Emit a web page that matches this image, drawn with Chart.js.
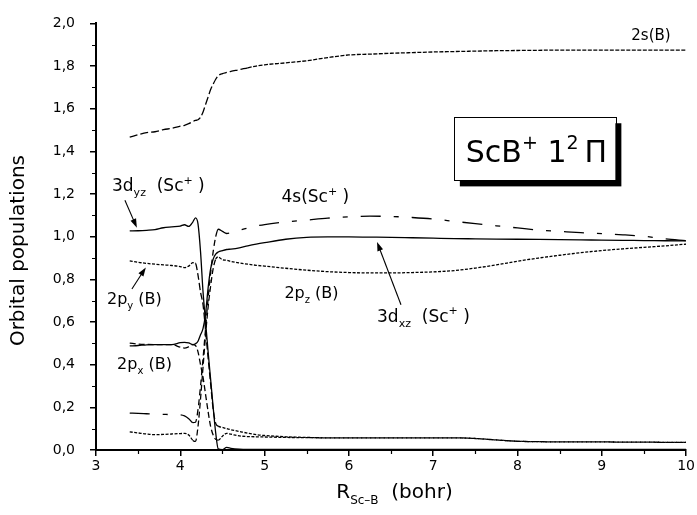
<!DOCTYPE html>
<html>
<head>
<meta charset="utf-8">
<title>ScB+ 1 2Π orbital populations</title>
<script src="https://cdn.jsdelivr.net/npm/chart.js@4.4.0/dist/chart.umd.min.js"></script>
<style>
  html, body { margin: 0; padding: 0; background: #fff; }
  canvas { display: block; }
</style>
</head>
<body>
<canvas id="chart" width="697" height="515"></canvas>
<script>
// Sc–B distance (bohr) at which the populations are tabulated
const rBohr = [3.4, 3.5, 3.6, 3.7, 3.8, 3.9, 4.0, 4.05, 4.1, 4.15,
  4.18, 4.21, 4.24, 4.27, 4.30, 4.33, 4.36, 4.39, 4.42, 4.45,
  4.5, 4.55, 4.6, 4.7, 4.8, 4.9, 5.0, 5.25, 5.5, 5.75,
  6.0, 6.25, 6.5, 6.75, 7.0, 7.25, 7.5, 7.75, 8.0, 8.25,
  8.5, 8.75, 9.0, 9.25, 9.5, 9.75, 10.0];

// Mulliken orbital populations along the curve
const pop2sB = [1.467, 1.478, 1.488, 1.492, 1.502, 1.508, 1.518, 1.522, 1.530, 1.540,
  1.545, 1.548, 1.560, 1.585, 1.620, 1.655, 1.690, 1.715, 1.738, 1.755,
  1.765, 1.770, 1.775, 1.783, 1.792, 1.800, 1.806, 1.815, 1.825, 1.840,
  1.852, 1.856, 1.860, 1.863, 1.866, 1.868, 1.870, 1.872, 1.873, 1.874,
  1.875, 1.875, 1.875, 1.875, 1.875, 1.875, 1.875];

const pop3dyz = [1.027, 1.028, 1.030, 1.033, 1.042, 1.046, 1.050, 1.056, 1.048, 1.070,
  1.088, 1.060, 0.930, 0.740, 0.600, 0.460, 0.330, 0.200, 0.080, 0.005,
  0.002, 0.012, 0.008, 0.004, 0.003, 0.003, 0.003, 0.003, 0.003, 0.003,
  0.003, 0.003, 0.003, 0.003, 0.003, 0.003, 0.003, 0.003, 0.003, 0.003,
  0.003, 0.003, 0.003, 0.003, 0.003, 0.003, 0.003];

const pop2py = [0.887, 0.880, 0.875, 0.871, 0.868, 0.865, 0.860, 0.855, 0.862, 0.878,
  0.875, 0.820, 0.740, 0.680, 0.560, 0.430, 0.310, 0.190, 0.125, 0.112,
  0.106, 0.100, 0.095, 0.087, 0.079, 0.072, 0.068, 0.062, 0.059, 0.057,
  0.057, 0.057, 0.057, 0.057, 0.057, 0.057, 0.054, 0.047, 0.041, 0.039,
  0.038, 0.038, 0.038, 0.037, 0.037, 0.036, 0.036];

const pop2px = [0.501, 0.497, 0.495, 0.494, 0.494, 0.494, 0.482, 0.478, 0.484, 0.494,
  0.490, 0.460, 0.400, 0.340, 0.260, 0.180, 0.110, 0.070, 0.050, 0.046,
  0.065, 0.078, 0.074, 0.066, 0.063, 0.062, 0.061, 0.059, 0.058, 0.057,
  0.057, 0.057, 0.057, 0.057, 0.057, 0.057, 0.054, 0.047, 0.041, 0.039,
  0.038, 0.038, 0.038, 0.037, 0.037, 0.036, 0.036];

const pop3dxz = [0.488, 0.490, 0.493, 0.494, 0.494, 0.494, 0.503, 0.505, 0.502, 0.494,
  0.498, 0.510, 0.540, 0.570, 0.640, 0.760, 0.850, 0.895, 0.918, 0.928,
  0.935, 0.940, 0.942, 0.948, 0.957, 0.965, 0.972, 0.988, 0.997, 0.999,
  0.999, 0.998, 0.997, 0.995, 0.993, 0.991, 0.990, 0.989, 0.988, 0.987,
  0.986, 0.985, 0.984, 0.983, 0.982, 0.981, 0.980];

const pop4s = [0.173, 0.172, 0.170, 0.168, 0.167, 0.166, 0.165, 0.160, 0.147, 0.128,
  0.130, 0.190, 0.300, 0.430, 0.570, 0.710, 0.830, 0.930, 1.000, 1.035,
  1.025, 1.015, 1.018, 1.030, 1.041, 1.050, 1.057, 1.069, 1.078, 1.087,
  1.093, 1.096, 1.095, 1.090, 1.083, 1.072, 1.061, 1.051, 1.041, 1.031,
  1.025, 1.019, 1.014, 1.009, 1.002, 0.990, 0.981];

const pop2pz = [0.085, 0.080, 0.075, 0.072, 0.073, 0.075, 0.077, 0.078, 0.070, 0.045,
  0.040, 0.110, 0.240, 0.390, 0.540, 0.670, 0.770, 0.850, 0.895, 0.905,
  0.892, 0.890, 0.884, 0.877, 0.871, 0.866, 0.862, 0.852, 0.843, 0.836,
  0.832, 0.830, 0.830, 0.832, 0.835, 0.841, 0.853, 0.868, 0.885, 0.900,
  0.913, 0.925, 0.935, 0.943, 0.950, 0.957, 0.965];

// Axis ticks
const xTicks = [3, 4, 5, 6, 7, 8, 9, 10];
const yTicks = [0, 0.2, 0.4, 0.6, 0.8, 1.0, 1.2, 1.4, 1.6, 1.8, 2.0];

const FONT = '"DejaVu Sans", sans-serif';
const INK = '#000';

function series(values) {
  return rBohr.map((x, i) => ({ x: x, y: values[i] }));
}

// dash pattern chosen per segment by its starting distance
function dashIn(lo, hi, inside, outside) {
  return ctx => {
    const x = ctx.p0.parsed.x;
    return (x >= lo && x < hi) ? inside : outside;
  };
}

const FINE = [3, 1.5];
const DASH = [7, 3];
const DASH_DOT = [20, 13, 5, 13];

function line(values, dash) {
  return {
    data: series(values),
    borderColor: INK,
    borderWidth: 1.3,
    pointRadius: 0,
    fill: false,
    cubicInterpolationMode: 'monotone',
    segment: dash ? { borderDash: dash } : undefined
  };
}

// Labels and pointers placed in data coordinates (R, population)
const curveLabels = [
  { x: 9.35, y: 1.921, size: 15, runs: [{ t: '2s(B)' }] },
  { x: 3.19, y: 1.213, size: 17, runs: [{ t: '3d' }, { t: 'yz', sub: true }, { t: '  (Sc' }, { t: '+', sup: true }, { t: ' )' }] },
  { x: 5.20, y: 1.162, size: 17, runs: [{ t: '4s(Sc' }, { t: '+', sup: true }, { t: ' )' }] },
  { x: 3.13, y: 0.685, size: 16, runs: [{ t: '2p' }, { t: 'y', sub: true }, { t: ' (B)' }] },
  { x: 3.25, y: 0.380, size: 16, runs: [{ t: '2p' }, { t: 'x', sub: true }, { t: ' (B)' }] },
  { x: 5.235, y: 0.713, size: 16, runs: [{ t: '2p' }, { t: 'z', sub: true }, { t: ' (B)' }] },
  { x: 6.334, y: 0.602, size: 17, runs: [{ t: '3d' }, { t: 'xz', sub: true }, { t: '  (Sc' }, { t: '+', sup: true }, { t: ' )' }] }
];

const pointers = [
  { from: [3.343, 1.171], to: [3.485, 1.042] },
  { from: [3.426, 0.755], to: [3.591, 0.856] },
  { from: [6.618, 0.681], to: [6.334, 0.975] }
];

const stateBox = {
  x0: 7.245, y0: 1.560, x1: 9.161, y1: 1.264,
  textX: 7.387, textY: 1.352, size: 30,
  runs: [{ t: 'ScB' }, { t: '+', sup: true }, { t: ' 1' }, { t: '2', sup: true }, { t: '\u2009Π' }]
};

function drawRuns(ctx, x, y, runs, size) {
  let cx = x;
  ctx.textAlign = 'left';
  ctx.textBaseline = 'alphabetic';
  for (const r of runs) {
    const s = (r.sub || r.sup) ? Math.round(size * 0.62) : size;
    ctx.font = s + 'px ' + FONT;
    const dy = r.sub ? size * 0.3 : (r.sup ? -size * 0.42 : 0);
    ctx.fillText(r.t, cx, y + dy);
    cx += ctx.measureText(r.t).width;
  }
  return cx;
}

function drawArrow(ctx, x0, y0, x1, y1) {
  const ang = Math.atan2(y1 - y0, x1 - x0);
  const len = 9, half = 3;
  ctx.beginPath();
  ctx.moveTo(x0, y0);
  ctx.lineTo(x1 - Math.cos(ang) * len * 0.8, y1 - Math.sin(ang) * len * 0.8);
  ctx.stroke();
  ctx.beginPath();
  ctx.moveTo(x1, y1);
  ctx.lineTo(x1 - Math.cos(ang) * len - Math.sin(ang) * half, y1 - Math.sin(ang) * len + Math.cos(ang) * half);
  ctx.lineTo(x1 - Math.cos(ang) * len + Math.sin(ang) * half, y1 - Math.sin(ang) * len - Math.cos(ang) * half);
  ctx.closePath();
  ctx.fill();
}

const decorations = {
  id: 'decorations',
  afterDraw(chart) {
    const ctx = chart.ctx;
    const xs = chart.scales.x, ys = chart.scales.y;
    const area = chart.chartArea;
    const px = v => xs.getPixelForValue(v);
    const py = v => ys.getPixelForValue(v);
    ctx.save();
    ctx.fillStyle = INK;
    ctx.strokeStyle = INK;

    // minor tick marks
    ctx.lineWidth = 1.2;
    ctx.beginPath();
    for (let v = 0.1; v < 2.0; v += 0.2) {
      const y = Math.round(py(v)) + 0.5;
      ctx.moveTo(area.left - 4, y);
      ctx.lineTo(area.left, y);
    }
    for (let v = 3.5; v < 10; v += 1) {
      const x = Math.round(px(v)) + 0.5;
      ctx.moveTo(x, area.bottom);
      ctx.lineTo(x, area.bottom + 4);
    }
    ctx.stroke();

    // curve labels
    for (const l of curveLabels) drawRuns(ctx, px(l.x), py(l.y), l.runs, l.size);

    // pointers
    ctx.lineWidth = 1.1;
    for (const p of pointers) drawArrow(ctx, px(p.from[0]), py(p.from[1]), px(p.to[0]), py(p.to[1]));

    // state label box with drop shadow
    const bx0 = px(stateBox.x0), by0 = py(stateBox.y0);
    const bx1 = px(stateBox.x1), by1 = py(stateBox.y1);
    ctx.fillStyle = INK;
    ctx.fillRect(bx0 + 6, by0 + 6, bx1 - bx0, by1 - by0);
    ctx.fillStyle = '#fff';
    ctx.fillRect(bx0, by0, bx1 - bx0, by1 - by0);
    ctx.lineWidth = 1;
    ctx.strokeRect(Math.round(bx0) + 0.5, Math.round(by0) + 0.5, Math.round(bx1 - bx0), Math.round(by1 - by0));
    ctx.fillStyle = INK;
    drawRuns(ctx, px(stateBox.textX), py(stateBox.textY), stateBox.runs, stateBox.size);

    // axis titles
    drawRuns(ctx, px(5.85), area.bottom + 48, [{ t: 'R' }, { t: 'Sc–B', sub: true }, { t: '  (bohr)' }], 20);
    ctx.save();
    ctx.translate(19, py(0.935));
    ctx.rotate(-Math.PI / 2);
    ctx.font = '20px ' + FONT;
    ctx.textAlign = 'center';
    ctx.textBaseline = 'middle';
    ctx.fillText('Orbital populations', 0, 0);
    ctx.restore();

    ctx.restore();
  }
};

new Chart(document.getElementById('chart'), {
  type: 'line',
  data: {
    datasets: [
      line(pop2sB, dashIn(0, 4.8, [8, 3], [4, 1.5])),
      line(pop3dyz, null),
      line(pop2py, dashIn(4.18, 4.45, DASH, FINE)),
      line(pop2px, dashIn(0, 4.45, [6, 3], FINE)),
      line(pop3dxz, null),
      line(pop4s, dashIn(4.15, 4.42, [6, 4], DASH_DOT)),
      line(pop2pz, dashIn(4.15, 4.42, [6, 3], FINE))
    ]
  },
  options: {
    responsive: false,
    devicePixelRatio: 1,
    animation: false,
    layout: { padding: { top: 18, right: 9, left: 0, bottom: 0 } },
    plugins: { legend: { display: false }, tooltip: { enabled: false } },
    scales: {
      x: {
        type: 'linear',
        min: 3, max: 10,
        afterFit: s => { s.height = 65; },
        afterBuildTicks: s => { s.ticks = xTicks.map(v => ({ value: v })); },
        grid: { drawOnChartArea: false, drawTicks: true, tickLength: 6, color: INK, lineWidth: 1.5 },
        border: { display: true, color: INK, width: 2 },
        ticks: { color: INK, font: { family: FONT, size: 14 }, padding: 2, maxRotation: 0,
          callback: v => String(v) }
      },
      y: {
        type: 'linear',
        min: 0, max: 2,
        afterFit: s => { s.width = 96; },
        afterBuildTicks: s => { s.ticks = yTicks.map(v => ({ value: v })); },
        grid: { drawOnChartArea: false, drawTicks: true, tickLength: 6, color: INK, lineWidth: 1.5 },
        border: { display: true, color: INK, width: 2 },
        ticks: { color: INK, font: { family: FONT, size: 14 }, padding: 15,
          callback: v => v.toFixed(1).replace('.', ',') }
      }
    }
  },
  plugins: [decorations]
});
</script>
</body>
</html>
